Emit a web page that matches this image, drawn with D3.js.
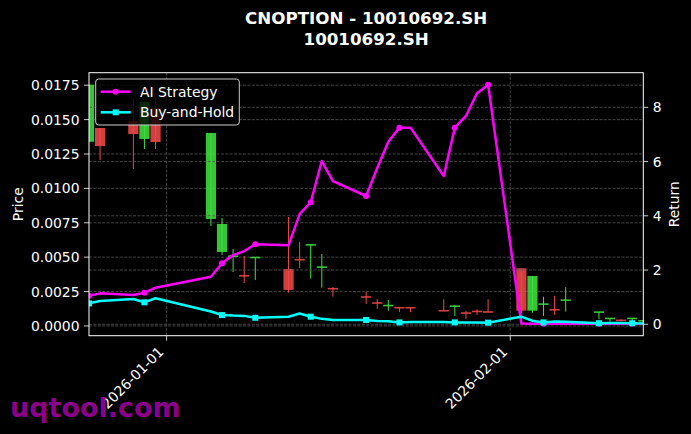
<!DOCTYPE html>
<html>
<head>
<meta charset="utf-8">
<script src="https://cdn.jsdelivr.net/npm/d3@7"></script>
<style>
  html, body { margin: 0; padding: 0; background: #000; }
  svg { display: block; }
  text { font-family: "DejaVu Sans", sans-serif; fill: #fff; }
</style>
</head>
<body>
<svg id="chart" width="691" height="434"></svg>
<script>
// ---------- data ----------
const dates = ["2025-12-25","2025-12-26","2025-12-29","2025-12-30","2025-12-31",
  "2026-01-05","2026-01-06","2026-01-07","2026-01-08","2026-01-09",
  "2026-01-12","2026-01-13","2026-01-14","2026-01-15","2026-01-16",
  "2026-01-19","2026-01-20","2026-01-21","2026-01-22","2026-01-23",
  "2026-01-26","2026-01-27","2026-01-28","2026-01-29","2026-01-30",
  "2026-02-02","2026-02-03","2026-02-04","2026-02-05","2026-02-06",
  "2026-02-09","2026-02-10","2026-02-11","2026-02-12","2026-02-13"];
const openP  = [0.01339,0.01439,0.01490,0.01359,0.01584, 0.00778,0.00538,0.00505,0.00366,0.00496,
  0.00414,0.00483,0.00588,0.00426,0.00272, 0.00212,0.00168,0.00147,0.00134,0.00134,
  0.00112,0.00142,0.00095,0.00107,0.00103, 0.00419,0.00111,0.00157,0.00119,0.00186,
  0.00099,0.00053,0.00042,0.00053,0.00036];
const highP  = [0.01754,0.01439,0.01657,0.01628,0.01664, 0.01403,0.00785,0.00560,0.00509,0.00499,
  0.00792,0.00610,0.00594,0.00523,0.00283, 0.00247,0.00196,0.00189,0.00134,0.00134,
  0.00194,0.00153,0.00111,0.00121,0.00194, 0.00419,0.00363,0.00213,0.00218,0.00281,
  0.00102,0.00056,0.00049,0.00056,0.00040];
const lowP   = [0.01339,0.01206,0.01141,0.01286,0.01286, 0.00727,0.00516,0.00392,0.00312,0.00334,
  0.00242,0.00421,0.00344,0.00278,0.00213, 0.00160,0.00124,0.00111,0.00100,0.00100,
  0.00109,0.00073,0.00049,0.00080,0.00100, 0.00092,0.00097,0.00073,0.00080,0.00104,
  0.00049,0.00031,0.00036,0.00020,0.00016];
const closeP = [0.01754,0.01308,0.01395,0.01628,0.01337, 0.01403,0.00741,0.00509,0.00363,0.00499,
  0.00262,0.00480,0.00591,0.00429,0.00269, 0.00209,0.00165,0.00150,0.00131,0.00131,
  0.00109,0.00145,0.00092,0.00104,0.00100, 0.00111,0.00363,0.00160,0.00116,0.00189,
  0.00102,0.00056,0.00039,0.00056,0.00039];
const aiReturn = [1.05,1.14,1.08,1.16,1.35, 1.75,2.25,2.55,2.70,2.95,
  2.91,4.06,4.50,6.02,5.28, 4.73,5.76,6.73,7.25,7.25,
  5.47,7.25,7.68,8.52,8.835, 0.03,0.02,0.02,0.02,0.02,
  0.02,0.02,0.02,0.02,0.02];
const bhReturn = [0.77,0.86,0.93,0.81,0.96, 0.47,0.34,0.32,0.31,0.24,
  0.28,0.40,0.28,0.20,0.16, 0.16,0.12,0.11,0.07,0.08,
  0.08,0.07,0.07,0.07,0.06, 0.28,0.13,0.07,0.10,0.09,
  0.04,0.05,0.05,0.04,0.03];
const priceTicks = [0,0.0025,0.005,0.0075,0.01,0.0125,0.015,0.0175];
const returnTicks = [0,2,4,6,8];
const dateTicks = ["2026-01-01","2026-02-01"];
const seriesNames = ["AI Strategy","Buy-and-Hold"];
const titleLines = ["CNOPTION - 10010692.SH","10010692.SH"];

// ---------- layout ----------
const W = 691, H = 434;
const L = 89, R = 643.3, T = 72.7, B = 335.7;
const svg = d3.select("#chart");
svg.append("rect").attr("width", W).attr("height", H).attr("fill", "#000");

const parse = d3.utcParse("%Y-%m-%d");
const dt = dates.map(parse);
const x = d3.scaleUtc().domain(d3.extent(dt)).range([L, R]);

function padded(lo, hi) { const r = hi - lo; return [lo - 0.05*r, hi + 0.05*r]; }
const yP = d3.scaleLinear().domain(padded(d3.min(lowP), d3.max(highP))).range([B, T]);
const allRet = aiReturn.concat(bhReturn);
const yR = d3.scaleLinear().domain(padded(d3.min(allRet), d3.max(allRet))).range([B, T]);

svg.append("clipPath").attr("id", "clip").append("rect")
  .attr("x", L).attr("y", T).attr("width", R - L).attr("height", B - T);

const gridColor = "#555", dash = "3,1.4";
// left grid
const g1 = svg.append("g");
g1.selectAll("line.hp").data(priceTicks).join("line")
  .attr("x1", L).attr("x2", R).attr("y1", d => yP(d)).attr("y2", d => yP(d))
  .attr("stroke", gridColor).attr("stroke-width", 0.8).attr("stroke-dasharray", dash);
g1.selectAll("line.v").data(dateTicks.map(parse)).join("line")
  .attr("x1", d => x(d)).attr("x2", d => x(d)).attr("y1", T).attr("y2", B)
  .attr("stroke", gridColor).attr("stroke-width", 0.8).attr("stroke-dasharray", dash);

// candles
const dayPx = x(parse("2026-01-02")) - x(parse("2026-01-01"));
const cw = 0.92 * dayPx;
const candles = dt.map((d, i) => ({d, o: openP[i], h: highP[i], l: lowP[i], c: closeP[i]}));
const up = "#3ee03e", dn = "#f04848";
const cg = svg.append("g").attr("clip-path", "url(#clip)");
cg.selectAll("line.wick").data(candles).join("line")
  .attr("x1", d => x(d.d)).attr("x2", d => x(d.d))
  .attr("y1", d => yP(d.h)).attr("y2", d => yP(d.l))
  .attr("stroke", d => d.c >= d.o ? up : dn).attr("stroke-width", 1);
cg.selectAll("rect.body").data(candles).join("rect")
  .attr("x", d => x(d.d) - cw/2).attr("width", cw)
  .attr("y", d => { const t = yP(Math.max(d.o, d.c)), b = yP(Math.min(d.o, d.c)); return b - t < 1.6 ? (t+b)/2 - 0.8 : t; })
  .attr("height", d => Math.max(1.6, yP(Math.min(d.o, d.c)) - yP(Math.max(d.o, d.c))))
  .attr("fill", d => d.c >= d.o ? up : dn).attr("fill-opacity", 0.88);

// right grid
const g2 = svg.append("g");
g2.selectAll("line").data(returnTicks).join("line")
  .attr("x1", L).attr("x2", R).attr("y1", d => yR(d)).attr("y2", d => yR(d))
  .attr("stroke", gridColor).attr("stroke-width", 0.8).attr("stroke-dasharray", dash);

// lines
const lg = svg.append("g").attr("clip-path", "url(#clip)");
const aiColor = "#ff00ff", bhColor = "#00ffff";
const lineAI = d3.line().x((d, i) => x(dt[i])).y(d => yR(d));
lg.append("path").datum(aiReturn).attr("d", lineAI).attr("fill", "none")
  .attr("stroke", aiColor).attr("stroke-width", 2.5).attr("stroke-linejoin", "round");
lg.selectAll("circle.ai").data(aiReturn.map((v, i) => [i, v]).filter(p => p[0] % 3 === 0)).join("circle")
  .attr("cx", p => x(dt[p[0]])).attr("cy", p => yR(p[1])).attr("r", 3).attr("fill", aiColor);
lg.append("path").datum(bhReturn).attr("d", lineAI).attr("fill", "none")
  .attr("stroke", bhColor).attr("stroke-width", 2.5).attr("stroke-linejoin", "round");
lg.selectAll("rect.bh").data(bhReturn.map((v, i) => [i, v]).filter(p => p[0] % 3 === 0)).join("rect")
  .attr("x", p => x(dt[p[0]]) - 3).attr("y", p => yR(p[1]) - 3).attr("width", 6).attr("height", 6)
  .attr("fill", bhColor);

// frame
svg.append("rect").attr("x", L).attr("y", T).attr("width", R - L).attr("height", B - T)
  .attr("fill", "none").attr("stroke", "#fff").attr("stroke-width", 1);

// axes
const fs = 13.9;
const axL = svg.append("g");
priceTicks.forEach(t => {
  const yy = yP(t);
  axL.append("line").attr("x1", L - 4.9).attr("x2", L).attr("y1", yy).attr("y2", yy).attr("stroke", "#fff").attr("stroke-width", 0.8);
  axL.append("text").attr("x", L - 9.5).attr("y", yy).attr("dy", "0.36em").attr("text-anchor", "end")
    .attr("font-size", fs).text(d3.format(".4f")(t));
});
const axR = svg.append("g");
returnTicks.forEach(t => {
  const yy = yR(t);
  axR.append("line").attr("x1", R).attr("x2", R + 4.9).attr("y1", yy).attr("y2", yy).attr("stroke", "#fff").attr("stroke-width", 0.8);
  axR.append("text").attr("x", R + 9.5).attr("y", yy).attr("dy", "0.36em").attr("text-anchor", "start")
    .attr("font-size", fs).text(d3.format("d")(t));
});
const axB = svg.append("g");
dateTicks.forEach(s => {
  const xx = x(parse(s));
  axB.append("line").attr("x1", xx).attr("x2", xx).attr("y1", B).attr("y2", B + 4.9).attr("stroke", "#fff").attr("stroke-width", 0.8);
  axB.append("text").attr("transform", `translate(${xx - 2},${B + 17}) rotate(-45)`)
    .attr("text-anchor", "end").attr("font-size", fs).text(s);
});

// axis labels
svg.append("text").attr("transform", `translate(22.5,${(T + B)/2}) rotate(-90)`)
  .attr("text-anchor", "middle").attr("font-size", fs).text("Price");
svg.append("text").attr("transform", `translate(679,${(T + B)/2}) rotate(-90)`)
  .attr("text-anchor", "middle").attr("font-size", fs).text("Return");

// title
svg.append("text").attr("x", (L + R)/2).attr("y", 24).attr("text-anchor", "middle")
  .attr("font-size", 16.7).attr("font-weight", "bold").text(titleLines[0]);
svg.append("text").attr("x", (L + R)/2).attr("y", 45).attr("text-anchor", "middle")
  .attr("font-size", 16.7).attr("font-weight", "bold").text(titleLines[1]);

// legend
const leg = svg.append("g");
leg.append("rect").attr("x", 95.7).attr("y", 79).attr("width", 143.6).attr("height", 46).attr("rx", 3)
  .attr("fill", "#000").attr("fill-opacity", 0.8).attr("stroke", "#cccccc").attr("stroke-width", 1);
[[aiColor, 91.7, "c"], [bhColor, 112.3, "s"]].forEach((e, i) => {
  leg.append("line").attr("x1", 100.7).attr("x2", 130.7).attr("y1", e[1]).attr("y2", e[1])
    .attr("stroke", e[0]).attr("stroke-width", 2.5);
  if (e[2] === "c") leg.append("circle").attr("cx", 115.7).attr("cy", e[1]).attr("r", 3).attr("fill", e[0]);
  else leg.append("rect").attr("x", 112.7).attr("y", e[1] - 3).attr("width", 6).attr("height", 6).attr("fill", e[0]);
  leg.append("text").attr("x", 140).attr("y", e[1]).attr("dy", "0.36em").attr("font-size", fs).text(seriesNames[i]);
});

// watermark
svg.append("text").attr("x", 10).attr("y", 417).attr("font-size", 27).attr("font-weight", "bold")
  .style("fill", "#8a008a").text("uqtool.com");
</script>
</body>
</html>
